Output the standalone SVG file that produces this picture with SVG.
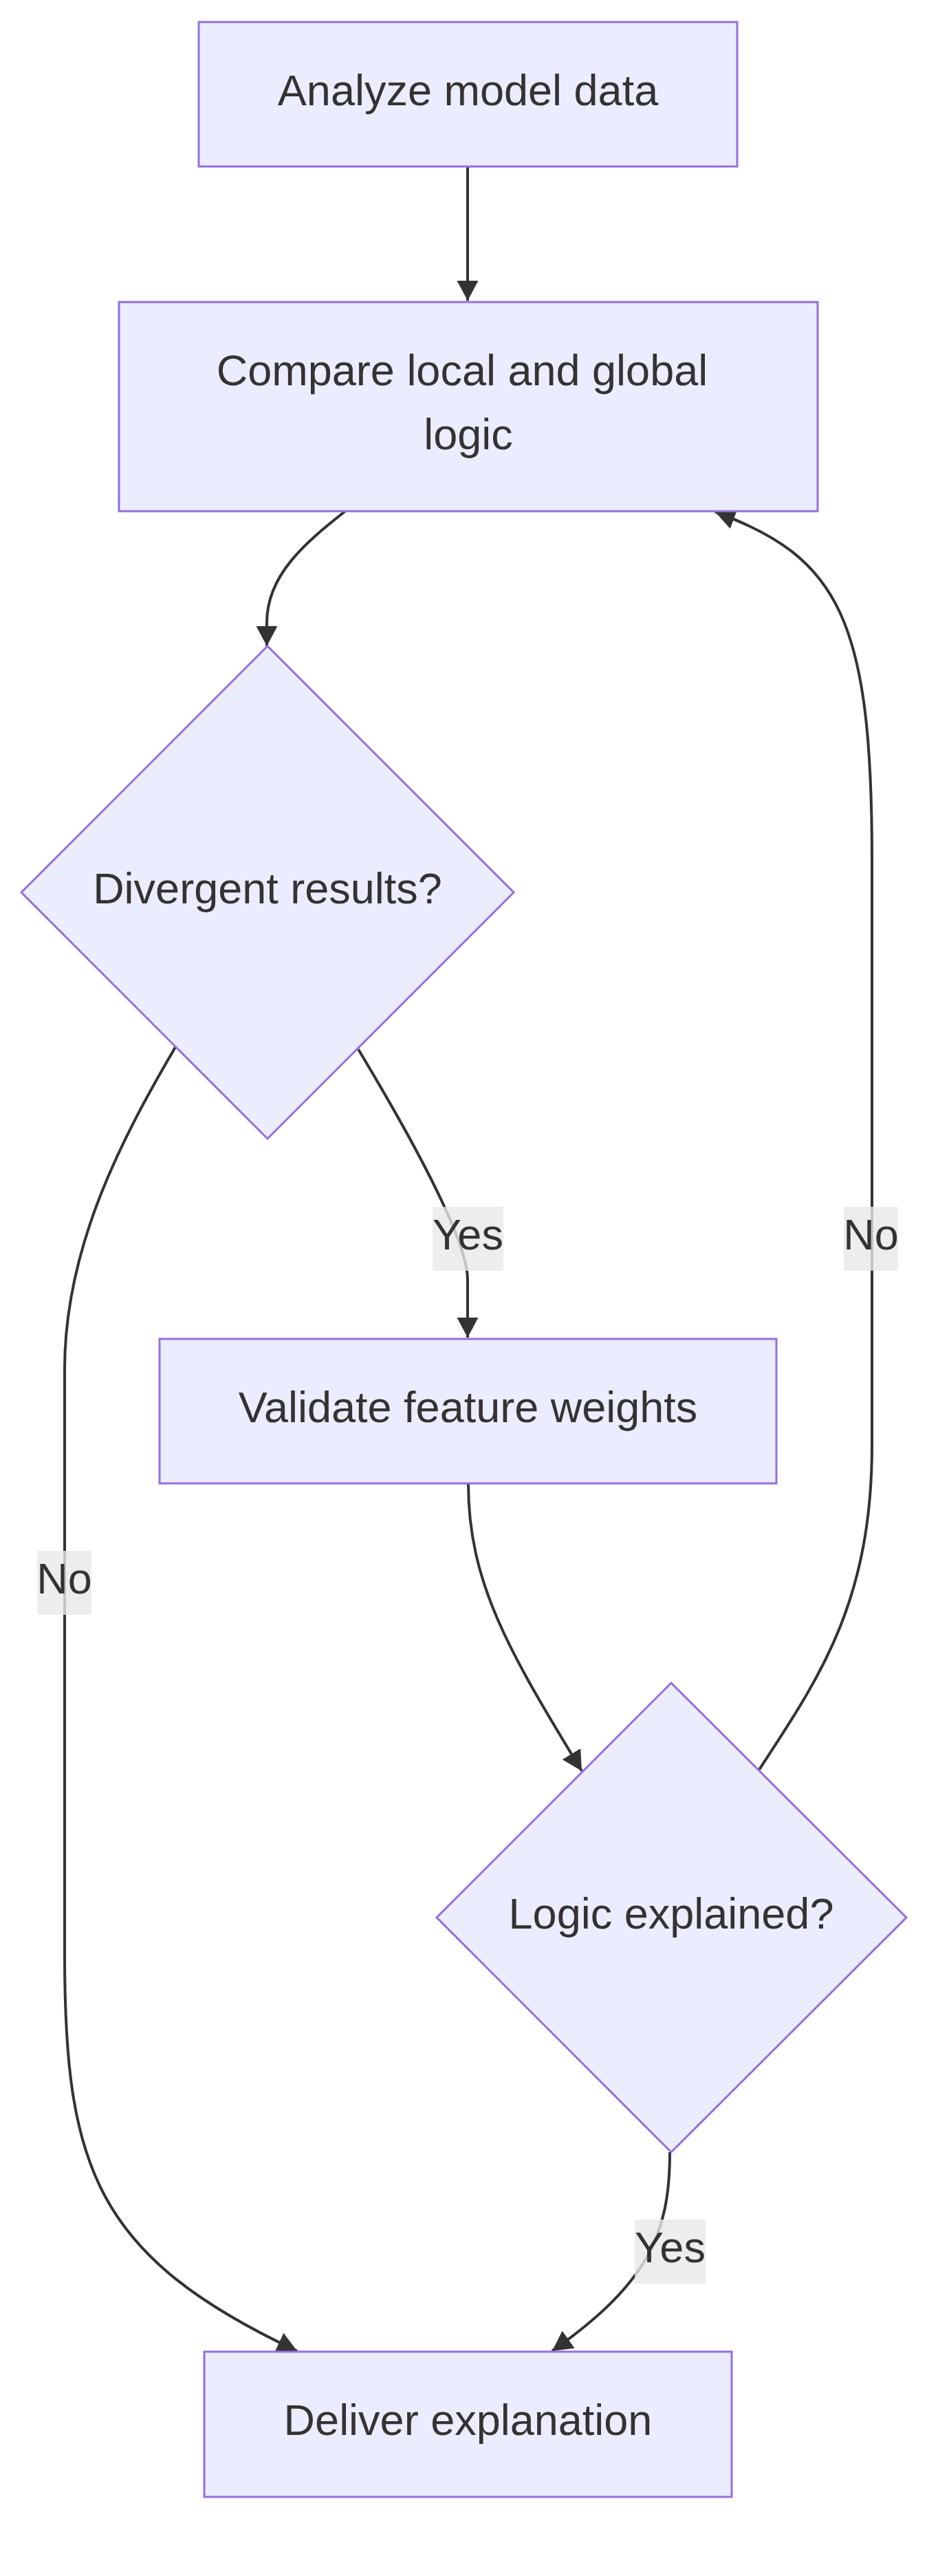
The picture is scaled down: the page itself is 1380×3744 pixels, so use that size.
<svg xmlns="http://www.w3.org/2000/svg" width="1380" height="3744" viewBox="0 0 1380 3744">
<defs>
<style>
.node rect, .node polygon { fill: #ECECFF; stroke: #9370DB; stroke-width: 3; }
.node text { font-family: "Liberation Sans", Arial, sans-serif; font-size: 63px; fill: #333333; text-anchor: middle; }
.edge { fill: none; stroke: #333333; stroke-width: 4; marker-end: url(#arrow); }
.elabel rect { fill: rgba(232,232,232,0.8); stroke: none; }
.elabel text { font-family: "Liberation Sans", Arial, sans-serif; font-size: 63px; fill: #333333; text-anchor: middle; }
</style>
<marker id="arrow" viewBox="0 0 29 31" refX="29" refY="15.5" markerWidth="29" markerHeight="31" markerUnits="userSpaceOnUse" orient="auto">
<path d="M0,0 L29,15.5 L0,31 z" fill="#333333"/>
</marker>
</defs>
<rect width="1380" height="3744" fill="#ffffff"/>
<g id="connectors">
<path class="edge" d="M680,243 L680,437"/>
<path class="edge" d="M502,743 C445,788 388,835 388,905 L388,939"/>
<path class="edge" d="M521,1525 C560,1590 680,1790 680,1860 L680,1944"/>
<path class="edge" d="M255,1522 C180,1650 94,1810 94,1990 L94,2841 C94,3150 140,3280 432,3417"/>
<path class="edge" d="M681,2156 C681,2300 740,2400 846,2574"/>
<path class="edge" d="M1104,2572 C1190,2440 1268,2330 1268,2100 L1268,1250 C1268,900 1220,810 1040,744"/>
<path class="edge" d="M974,3128 C974,3250 940,3320 803,3417"/>
</g>
<g id="edge-labels">
<g class="elabel" id="label-yes-1"><rect x="629" y="1754" width="103" height="93"/><text x="680.5" y="1816">Yes</text></g>
<g class="elabel" id="label-no-1"><rect x="1227" y="1754" width="79" height="93"/><text x="1266.5" y="1816">No</text></g>
<g class="elabel" id="label-no-2"><rect x="54" y="2254" width="79" height="93"/><text x="93.5" y="2316">No</text></g>
<g class="elabel" id="label-yes-2"><rect x="923" y="3226" width="103" height="93"/><text x="974.5" y="3288">Yes</text></g>
</g>
<g id="node-analyze" class="node"><rect x="289" y="32" width="783" height="210"/><text x="680.5" y="153">Analyze model data</text></g>
<g id="node-compare" class="node"><rect x="173" y="439" width="1016" height="304"/><text x="672" y="560">Compare local and global</text><text x="681" y="653">logic</text></g>
<g id="node-divergent" class="node"><polygon points="389,939 747,1297 389,1655 31,1297"/><text x="389" y="1313">Divergent results?</text></g>
<g id="node-validate" class="node"><rect x="232" y="1946" width="897" height="210"/><text x="680.5" y="2067">Validate feature weights</text></g>
<g id="node-logic" class="node"><polygon points="976,2446 1318,2787 976,3128 635,2787"/><text x="976" y="2803">Logic explained?</text></g>
<g id="node-deliver" class="node"><rect x="297" y="3418" width="767" height="211"/><text x="680.5" y="3539">Deliver explanation</text></g>
</svg>
